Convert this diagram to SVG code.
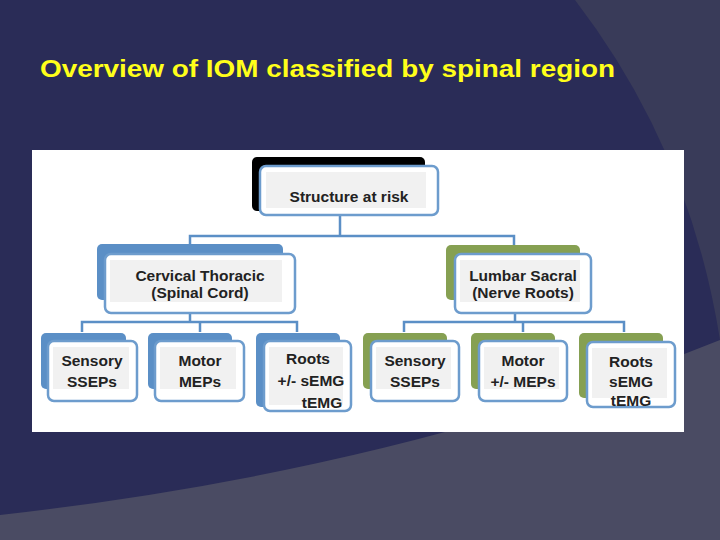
<svg xmlns="http://www.w3.org/2000/svg" width="720" height="540" viewBox="0 0 720 540">
<style>
.t{font-family:"Liberation Sans",Arial,sans-serif;font-weight:bold;font-size:15.5px;fill:#222;text-anchor:middle}
.f{fill:#fff;stroke:#6d9ccd;stroke-width:2.5}
.in{fill:#f1f1f1}
.sb{fill:#5b8fc6}
.sg{fill:#86a052}
.c{fill:none;stroke:#5b8fc6;stroke-width:2.5}
</style>
<rect width="720" height="540" fill="#2a2c57"/>
<path d="M575,0 Q690,150 720,340 L720,0 Z" fill="#393b59"/>
<path d="M0,515 Q400,470 720,340 L720,540 L0,540 Z" fill="#4a4b63"/>
<text x="40" y="77" font-family="Liberation Sans,Arial,sans-serif" font-weight="bold" font-size="24" fill="#ffff1a" textLength="575" lengthAdjust="spacingAndGlyphs">Overview of IOM classified by spinal region</text>
<rect x="32" y="150" width="652" height="282" fill="#fff"/>
<g id="connectors">
<path class="c" d="M340,215V236M190,246V236H514V246"/>
<path class="c" d="M190,313V322M82,332V322H297V332M200,322V332"/>
<path class="c" d="M515,313V322M404,332V322H624V332M523,322V332"/>
</g>
<g id="n0"><rect x="252" y="157" width="173" height="54" rx="5" fill="#000"/><rect class="f" x="260" y="166" width="178" height="49" rx="6"/><rect class="in" x="266" y="172" width="160" height="36"/><text class="t" x="349" y="202">Structure at risk</text></g>
<g id="n1"><rect class="sb" x="97" y="244" width="186" height="56" rx="5"/><rect class="f" x="105" y="254" width="190" height="59" rx="6"/><rect class="in" x="110" y="260" width="172" height="42"/><text class="t" x="200" y="281">Cervical Thoracic</text><text class="t" x="200" y="298">(Spinal Cord)</text></g>
<g id="n2"><rect class="sg" x="446" y="245" width="134" height="55" rx="5"/><rect class="f" x="455" y="254" width="136" height="59" rx="6"/><rect class="in" x="460" y="260" width="120" height="42"/><text class="t" x="523" y="281">Lumbar Sacral</text><text class="t" x="523" y="298">(Nerve Roots)</text></g>
<g id="n3"><rect class="sb" x="41" y="333" width="85" height="56" rx="5"/><rect class="f" x="48" y="341" width="89" height="60" rx="6"/><rect class="in" x="53" y="347" width="76" height="42"/><text class="t" x="92" y="366">Sensory</text><text class="t" x="92" y="387">SSEPs</text></g>
<g id="n4"><rect class="sb" x="148" y="333" width="84" height="56" rx="5"/><rect class="f" x="155" y="341" width="89" height="60" rx="6"/><rect class="in" x="160" y="347" width="76" height="42"/><text class="t" x="200" y="366">Motor</text><text class="t" x="200" y="387">MEPs</text></g>
<g id="n5"><rect class="sb" x="256" y="333" width="84" height="74" rx="5"/><rect class="f" x="264" y="341" width="87" height="70" rx="6"/><rect class="in" x="269" y="347" width="74" height="58"/><text class="t" x="308" y="364">Roots</text><text class="t" x="311" y="386">+/- sEMG</text><text class="t" x="322" y="408">tEMG</text></g>
<g id="n6"><rect class="sg" x="363" y="333" width="84" height="56" rx="5"/><rect class="f" x="371" y="341" width="88" height="60" rx="6"/><rect class="in" x="376" y="347" width="75" height="42"/><text class="t" x="415" y="366">Sensory</text><text class="t" x="415" y="387">SSEPs</text></g>
<g id="n7"><rect class="sg" x="471" y="333" width="84" height="56" rx="5"/><rect class="f" x="479" y="341" width="88" height="60" rx="6"/><rect class="in" x="484" y="347" width="75" height="42"/><text class="t" x="523" y="366">Motor</text><text class="t" x="523" y="387">+/- MEPs</text></g>
<g id="n8"><rect class="sg" x="579" y="333" width="84" height="65" rx="5"/><rect class="f" x="587" y="342" width="88" height="65" rx="6"/><rect class="in" x="592" y="348" width="75" height="50"/><text class="t" x="631" y="367">Roots</text><text class="t" x="631" y="387">sEMG</text><text class="t" x="631" y="406">tEMG</text></g>
</svg>
